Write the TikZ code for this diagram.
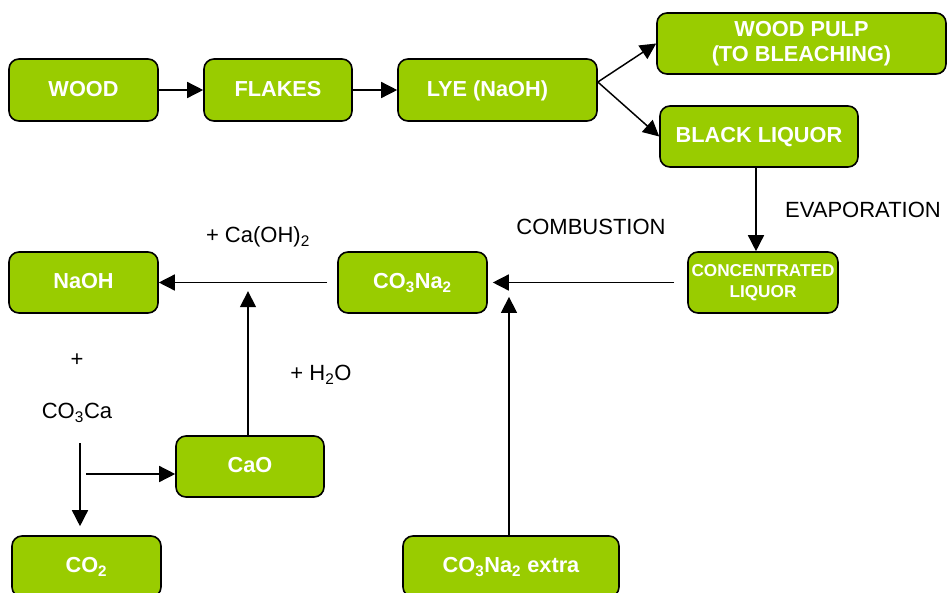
\documentclass[tikz,border=0pt]{standalone}
\usepackage{fontspec}
\setmainfont{Liberation Sans}
\usetikzlibrary{arrows.meta}
\definecolor{leaf}{HTML}{99CC00}
\begin{document}
\begin{tikzpicture}[x=0.75pt,y=-0.75pt,
  box/.style={draw=black, line width=1.2pt, fill=leaf, rounded corners=7.5pt,
    text=white, font=\fontsize{16.3}{18.75}\selectfont\bfseries,
    inner sep=0pt, align=center},
  onetext/.style={text depth=0.2em},
  sz/.style 2 args={minimum width=#1*0.75pt, minimum height=#2*0.75pt},
  arr/.style={line width=1.1pt, -{Triangle[length=12pt,width=12pt]}},
  note/.style={font=\fontsize{16.5}{20}\selectfont, inner sep=0pt},
]
\useasboundingbox (0,0) rectangle (947,593);
\clip (0,0) rectangle (947,593);

% process boxes
\node[box, onetext, sz={149}{62}] (wood)   at (83.5,90)    {WOOD};
\node[box, onetext, sz={148}{62}] (flakes) at (278,90)     {FLAKES};
\node[box, onetext, sz={199}{62}] (lye)    at (497.5,90)   {\hspace*{-15pt}LYE (NaOH)};
\node[box, sz={289}{61}]          (pulp)   at (801.5,43.5) {WOOD PULP\\(TO BLEACHING)};
\node[box, onetext, sz={198}{61}] (bl)     at (759,136.5)  {BLACK LIQUOR};
\node[box, sz={150}{61}, font=\fontsize{12.9}{15.75}\selectfont\bfseries]
                                  (conc)   at (763,282.5)  {CONCENTRATED\\LIQUOR};
\node[box, onetext, sz={149}{61}] (soda)   at (412.5,282.5) {CO\textsubscript{3}Na\textsubscript{2}};
\node[box, onetext, sz={149}{61}] (naoh)   at (83.5,282.5) {NaOH};
\node[box, onetext, sz={148}{61}] (cao)    at (250,466.5)  {CaO};
\node[box, onetext, sz={149}{61}] (co2)    at (86.5,566.5) {CO\textsubscript{2}};
\node[box, onetext, sz={216}{61}] (extra)  at (511,566.5)  {CO\textsubscript{3}Na\textsubscript{2} extra};

% free labels
\node[note] (combustion) at (591,227) {COMBUSTION};
\node[note] (evap)       at (863,210) {EVAPORATION};
\node[note] (caoh)       at (258,237) {+ Ca(OH)\textsubscript{2}};
\node[note] (water)      at (321,375) {+ H\textsubscript{2}O};
\node[note] (plus)       at (77,360)  {+};
\node[note] (carb)       at (77,413)  {CO\textsubscript{3}Ca};

% helper points for the connectors
\coordinate (evx)  at (756,0);
\coordinate (lime) at (248,282.5);
\coordinate (feed) at (509,282.5);
\coordinate (drop) at (80,443);
\coordinate (fork) at (86,474);

% connectors
\draw[arr] (wood) -- (flakes);
\draw[arr] (flakes) -- (lye);
\draw[arr] ([yshift=6pt]lye.east) -- (pulp.west);
\draw[arr] ([yshift=6pt]lye.east) -- (bl.west);
\draw[arr] (bl.south -| evx) -- (conc.north -| evx);
\draw[arr, shorten <=9.75pt, shorten >=3.75pt] (conc.west) -- (soda.east);
\draw[arr, shorten <=7.5pt] (soda.west) -- (naoh.east);
\draw[arr, shorten >=6.5pt] (cao.north -| lime) -- (lime);
\draw[arr, shorten >=10.8pt] (extra.north -| feed) -- (feed);
\draw[arr, shorten >=6.75pt] (drop) -- (drop |- co2.north);
\draw[arr] (fork) -- (fork -| cao.west);
\end{tikzpicture}
\end{document}
